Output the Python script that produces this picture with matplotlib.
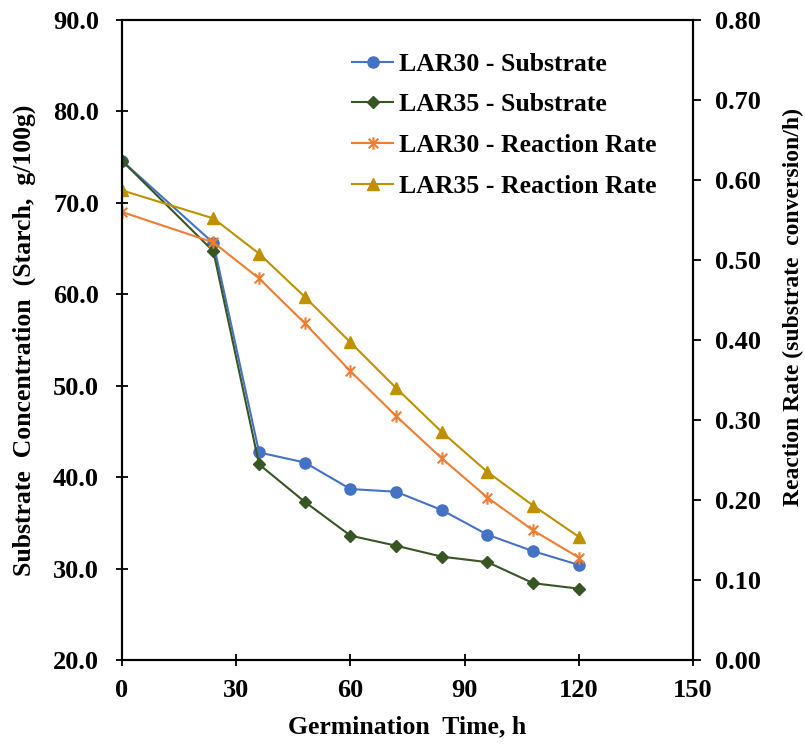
import matplotlib
matplotlib.use('Agg')
import matplotlib.pyplot as plt
from matplotlib.path import Path

# Data
time_h = [0, 24, 36, 48, 60, 72, 84, 96, 108, 120]
lar30_substrate = [74.6, 65.6, 42.7, 41.6, 38.7, 38.4, 36.4, 33.7, 31.9, 30.4]
lar35_substrate = [74.6, 64.7, 41.4, 37.3, 33.6, 32.5, 31.3, 30.7, 28.4, 27.8]
lar30_rate = [0.560, 0.522, 0.477, 0.421, 0.361, 0.305, 0.252, 0.203, 0.162, 0.128]
lar35_rate = [0.587, 0.552, 0.508, 0.454, 0.397, 0.340, 0.285, 0.235, 0.193, 0.154]

x_ticks = [0, 30, 60, 90, 120, 150]
left_ticks = [20, 30, 40, 50, 60, 70, 80, 90]
right_ticks = [0.0, 0.1, 0.2, 0.3, 0.4, 0.5, 0.6, 0.7, 0.8]

plt.rcParams['font.family'] = ['Liberation Serif', 'DejaVu Serif']
plt.rcParams['font.weight'] = 'bold'

# Excel-like star marker: an X plus a vertical bar
star = Path([(-1, -1), (1, 1), (-1, 1), (1, -1), (0, -1.3), (0, 1.3)],
            [Path.MOVETO, Path.LINETO, Path.MOVETO, Path.LINETO, Path.MOVETO, Path.LINETO])

fig = plt.figure(figsize=(8.05, 7.47), dpi=100)
ax = fig.add_axes([0.1516, 0.1165, 0.7093, 0.8567])
ax2 = ax.twinx()

l1, = ax.plot(time_h, lar30_substrate, color='#4472C4', lw=1.5, marker='o', ms=8,
              label='LAR30 - Substrate')
l2, = ax.plot(time_h, lar35_substrate, color='#375623', lw=1.5, marker='D', ms=6,
              label='LAR35 - Substrate')
l3, = ax2.plot(time_h, lar30_rate, color='#ED7D31', lw=1.5, marker=star, ms=9, mew=1.5,
               label='LAR30 - Reaction Rate')
l4, = ax2.plot(time_h, lar35_rate, color='#BF9000', lw=1.5, marker='^', ms=9,
               label='LAR35 - Reaction Rate')

ax.set_xlim(0, 150)
ax.set_ylim(20, 90)
ax2.set_ylim(0, 0.8)
ax.set_xticks(x_ticks)
ax.set_yticks(left_ticks)
ax.set_yticklabels([f'{v:.1f}' for v in left_ticks])
ax2.set_yticks(right_ticks)
ax2.set_yticklabels([f'{v:.2f}' for v in right_ticks])

for a in (ax, ax2):
    for s in a.spines.values():
        s.set_linewidth(1.5)
ax.tick_params(axis='both', direction='inout', length=9, width=1.3, labelsize=19, pad=12)
ax.tick_params(axis='x', pad=9)
ax2.tick_params(axis='y', direction='out', length=6, width=1.3, labelsize=19, pad=10)

ax.set_xlabel('Germination  Time, h', fontsize=18.5, fontweight='bold', labelpad=10)
ax.set_ylabel('Substrate  Concentration  (Starch,  g/100g)', fontsize=18.5, fontweight='bold',
              labelpad=12)
ax2.set_ylabel('Reaction Rate (substrate  conversion/h)', fontsize=17, fontweight='bold')
ax2.yaxis.set_label_coords(1.158, 0.552)

ax.legend(handles=[l1, l2, l3, l4], loc='upper left', bbox_to_anchor=(0.385, 0.965),
          frameon=False, fontsize=18.5, handlelength=1.6, handletextpad=0.23,
          labelspacing=0.69, borderaxespad=0)

fig.savefig('out.png', dpi=100)
